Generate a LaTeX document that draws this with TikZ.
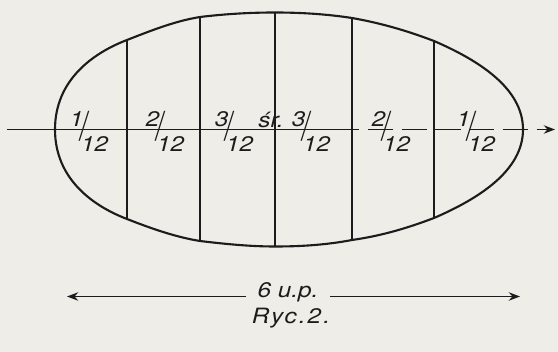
\documentclass[tikz,border=0pt]{standalone}
\usepackage{fontspec}
\setsansfont{TeX Gyre Heros}[FakeStretch=1.15]
\usepackage{graphicx}
\usetikzlibrary{arrows.meta}
\definecolor{paper}{HTML}{EEEDE7}
\definecolor{ink}{HTML}{1C1C1C}
% numerator above the axis, long slash, denominator below
\newcommand{\frlab}[2]{\raisebox{.45em}{#1}\kern-.12em\raisebox{-.2em}{\scalebox{1}[1.9]{/}}\kern-.3em\raisebox{-.72em}{#2}}

\begin{document}
\begin{tikzpicture}[x=0.025cm,y=-0.025cm,>={Stealth[length=8pt,width=6pt]},
  outline/.style={ink,line width=1.5pt,line join=round},
  divider/.style={ink,line width=0.9pt},
  axisline/.style={ink,line width=1pt},
  frac label/.style={font=\fontsize{15}{17}\selectfont\sffamily\itshape,text=ink,inner sep=0pt,anchor=base},
  caption/.style={font=\fontsize{15}{17}\selectfont\sffamily\itshape,text=ink,inner sep=0pt}]
  \fill[paper] (0,0) rectangle (558,352);
  \useasboundingbox (0,0) rectangle (558,352);

  % egg outline
  \coordinate (tip l) at (55,129.5);
  \coordinate (tip r) at (523,129.5);
  \coordinate (t1) at (127,40);   \coordinate (b1) at (127,219);
  \coordinate (t2) at (200,17);   \coordinate (b2) at (200,241);
  \coordinate (t3) at (275,12.5); \coordinate (b3) at (275,246.5);
  \coordinate (t4) at (352,18);   \coordinate (b4) at (352,240);
  \coordinate (t5) at (434,41);   \coordinate (b5) at (434,218);
  \draw[outline] (tip l) .. controls (55,80) and (93,53) .. (t1)
    .. controls (150,31) and (175,21) .. (t2)
    .. controls (225,14) and (250,12.5) .. (t3)
    .. controls (300,12.5) and (326,14) .. (t4)
    .. controls (380,23) and (405,30) .. (t5)
    .. controls (478,60) and (523,88) .. (tip r)
    .. controls (523,171) and (478,199) .. (b5)
    .. controls (405,229) and (380,236) .. (b4)
    .. controls (326,245) and (300,246.5) .. (b3)
    .. controls (250,246.5) and (225,244) .. (b2)
    .. controls (175,237) and (150,228) .. (b1)
    .. controls (93,206) and (55,179) .. (tip l) -- cycle;

  % strips
  \foreach \i in {1,...,5}
    \draw[divider] (t\i) -- (b\i);

  % axis
  \coordinate (ax0) at (7,129.5);
  \coordinate (axm) at (334,129.5);
  \coordinate (ax1) at (555,129.5);
  \draw[axisline] (ax0) -- (axm);
  \draw[axisline,dash pattern=on 18pt off 6pt,->] (axm) -- (ax1);

  \node[frac label] (f1) at (89,136) {\frlab{1}{12}};
  \node[frac label] (f2) at (165,136) {\frlab{2}{12}};
  \node[frac label] (f3) at (234,136) {\frlab{3}{12}};
  \node[frac label] (mid) at (271,128) {śr.};
  \node[frac label] (f4) at (311,136) {\frlab{3}{12}};
  \node[frac label] (f5) at (391,136) {\frlab{2}{12}};
  \node[frac label] (f6) at (476,136) {\frlab{1}{12}};

  % length
  \node[caption,inner xsep=8pt] (len) at (288,292) {6 u.p.};
  \coordinate (len l) at (67,296.5);
  \coordinate (len r) at (520,296.5);
  \draw[axisline,->] (len.west |- len l) -- (len l);
  \draw[axisline,->] (len.east |- len r) -- (len r);

  \node[caption] (fig) at (291,318) {\addfontfeature{LetterSpace=10}Ryc.2.};
\end{tikzpicture}
\end{document}
